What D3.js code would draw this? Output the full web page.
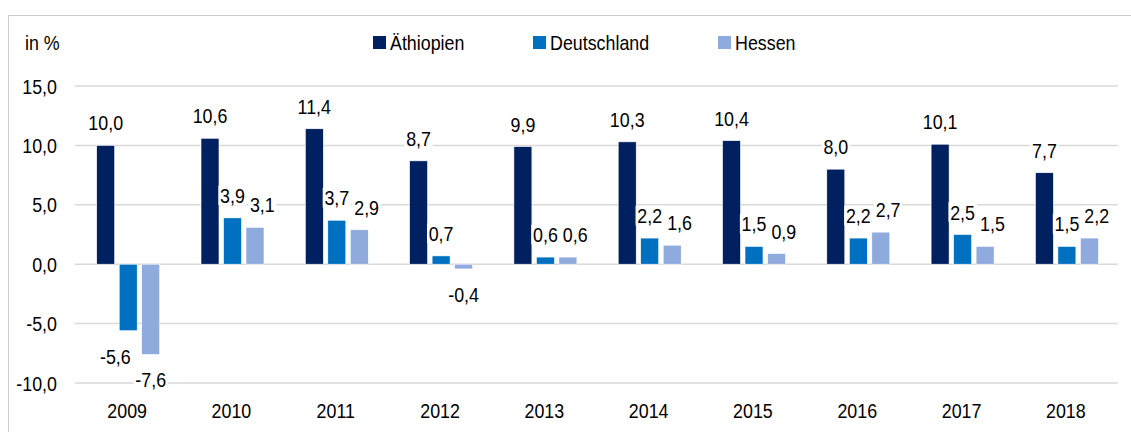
<!DOCTYPE html>
<html lang="de">
<head>
  <meta charset="UTF-8" />
  <title>Wachstum in %</title>
  <script src="https://d3js.org/d3.v7.min.js"></script>
  <style>
    body { margin: 0; background: #fff; }
    svg { display: block; font-family: "Liberation Sans", Arial, sans-serif; }
    .grid line { stroke: #d9d9d9; stroke-width: 1.5px; }
    .tick-label, .year, .val, .legend text, .unit { font-size: 21px; fill: #000; }
  </style>
</head>
<body>
  <svg id="chart" width="1131" height="432"></svg>
  <script>
    const years = ['2009', '2010', '2011', '2012', '2013', '2014', '2015', '2016', '2017', '2018'];
    const seriesNames = ['Äthiopien', 'Deutschland', 'Hessen'];
    const colors = ['#002060', '#0070c0', '#8faadc'];
    const aethiopien = [10.0, 10.6, 11.4, 8.7, 9.9, 10.3, 10.4, 8.0, 10.1, 7.7];
    const deutschland = [-5.6, 3.9, 3.7, 0.7, 0.6, 2.2, 1.5, 2.2, 2.5, 1.5];
    const hessen = [-7.6, 3.1, 2.9, -0.4, 0.6, 1.6, 0.9, 2.7, 1.5, 2.2];
    const yTicks = [-10, -5, 0, 5, 10, 15];

    const svg = d3.select('#chart');
    const fmt = v => v.toFixed(1).replace('.', ',');
    const SX = 0.85; // narrow look, no condensed face installed
    const at = (x, y) => `translate(${x},${y}) scale(${SX},1)`;

    // dotted frame
    svg.append('rect').attr('x', 8.5).attr('y', 15.5).attr('width', 1140).attr('height', 440)
      .attr('fill', 'none').attr('stroke', '#999').attr('stroke-dasharray', '1,1');

    const x0 = d3.scaleBand().domain(years).range([75, 1118]);
    const x1 = d3.scaleBand().domain(seriesNames).range([21.7, 84.7]).paddingInner(0.2);
    const y = d3.scaleLinear().domain([-10, 15]).range([383, 86]);

    svg.append('g').attr('class', 'grid').selectAll('line').data(yTicks).join('line')
      .attr('x1', 75).attr('x2', 1118).attr('y1', d => y(d)).attr('y2', d => y(d));

    svg.append('g').selectAll('text').data(yTicks).join('text').attr('class', 'tick-label')
      .attr('transform', d => at(57, y(d) + 7.5)).attr('text-anchor', 'end').text(fmt);

    svg.append('text').attr('class', 'unit').attr('transform', at(25, 50)).text('in %');

    svg.append('g').selectAll('text').data(years).join('text').attr('class', 'year')
      .attr('transform', d => at(x0(d) + x0.bandwidth() / 2, 418)).attr('text-anchor', 'middle').text(d => d);

    const series = [aethiopien, deutschland, hessen];
    const points = [];
    series.forEach((vals, si) => vals.forEach((v, i) => points.push({ year: years[i], s: seriesNames[si], si, i, v })));

    svg.append('g').selectAll('rect').data(points).join('rect')
      .attr('x', d => x0(d.year) + x1(d.s))
      .attr('width', x1.bandwidth())
      .attr('y', d => y(Math.max(0, d.v)))
      .attr('height', d => Math.abs(y(d.v) - y(0)))
      .attr('fill', d => colors[d.si])
      .attr('stroke', '#fff').attr('stroke-width', 0.6);

    // value labels: pushed right when they hit the previous label,
    // pushed left when a negative label runs into the next (longer) bar
    const lab = svg.append('g');
    const placed = {};
    points.slice().sort((a, b) => a.i - b.i || a.si - b.si).forEach(d => {
      let cx = x0(d.year) + x1(d.s) + x1.bandwidth() / 2;
      const ty = d.v >= 0 ? y(d.v) - 15 : y(d.v) + 33;
      const g = lab.append('g');
      const t = g.append('text').attr('class', 'val').attr('text-anchor', 'middle').text(fmt(d.v));
      const w = t.node().getBBox().width * SX;
      const prev = placed[d.year];
      if (prev && Math.abs(prev.ty - ty) < 18 && cx - w / 2 < prev.right + 5) cx = prev.right + 5 + w / 2;
      if (d.v < 0 && d.si < series.length - 1) {
        const nv = series[d.si + 1][d.i];
        const nx = x0(d.year) + x1(seriesNames[d.si + 1]);
        if (nv < 0 && y(nv) > ty - 16 && cx + w / 2 > nx) cx = nx - 11 - w / 2;
      }
      placed[d.year] = { right: cx + w / 2, ty };
      g.attr('transform', at(cx, ty));
      const b = t.node().getBBox();
      g.insert('rect', 'text').attr('x', b.x - 2).attr('y', b.y + 2).attr('width', b.width + 4).attr('height', b.height - 4).attr('fill', '#fff');
    });

    const legendX = [373, 533, 718];
    const legend = svg.append('g').attr('class', 'legend').selectAll('g').data(seriesNames).join('g')
      .attr('transform', (d, i) => `translate(${legendX[i]},36)`);
    legend.append('rect').attr('width', 13).attr('height', 13).attr('fill', (d, i) => colors[i]);
    legend.append('text').attr('transform', at(17, 13.5)).text(d => d);
  </script>
</body>
</html>
